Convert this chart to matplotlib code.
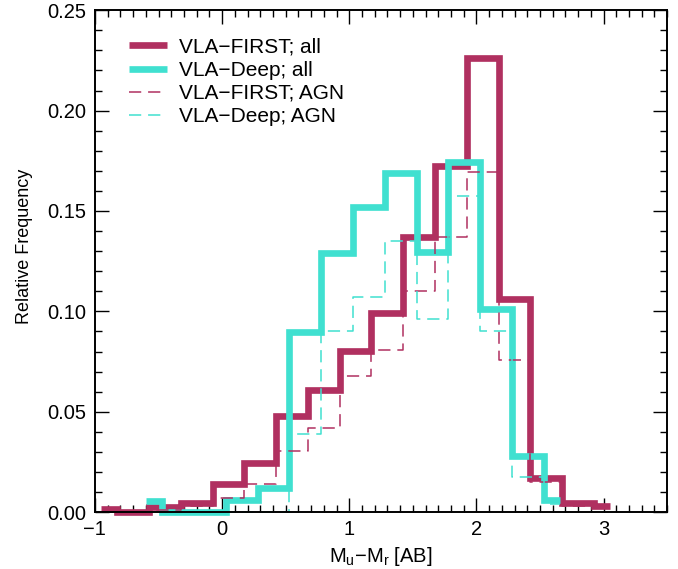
import numpy as np
import matplotlib
matplotlib.use("Agg")
import matplotlib.pyplot as plt
from matplotlib.ticker import MultipleLocator

plt.rcParams['font.family'] = ['Liberation Sans', 'DejaVu Sans']
plt.rcParams['mathtext.fontset'] = 'custom'
plt.rcParams['mathtext.rm'] = 'Liberation Sans'

# bin centres
x_first = np.arange(17)*0.25 - 0.95
x_deep = np.arange(14)*0.25 - 0.595

# relative frequency per bin
first_all = [0.0013, 0.0, 0.0025, 0.0045, 0.0140, 0.0245, 0.048, 0.0607, 0.0805,
             0.099, 0.137, 0.1725, 0.226, 0.106, 0.0168, 0.0043, 0.003]
deep_all = [0.0053, 0.0, 0.0, 0.006, 0.0118, 0.0898, 0.129, 0.152, 0.1688,
            0.1296, 0.1745, 0.1014, 0.0279, 0.0058]
first_agn = [0.0, 0.0, 0.001, 0.003, 0.007, 0.014, 0.0304, 0.042, 0.068,
             0.0806, 0.110, 0.137, 0.1695, 0.0756, 0.015, 0.003, 0.002]
deep_agn = [0.0, 0.0, 0.0, 0.0, 0.0, 0.039, 0.090, 0.107, 0.135,
            0.096, 0.1575, 0.090, 0.0173, 0.004]

maroon = '#B03060'
turq = '#40E0D0'

fig = plt.figure(figsize=(6.78, 5.69), dpi=100)
ax = fig.add_axes([0.140, 0.100, 0.844, 0.882])

kw = dict(drawstyle='steps-mid', clip_on=False, solid_capstyle='butt',
          solid_joinstyle='miter')
ax.plot(x_first, first_all, color=maroon, lw=4.8, label='VLA\u2212FIRST; all', **kw)
ax.plot(x_deep, deep_all, color=turq, lw=4.8, label='VLA\u2212Deep; all', **kw)
ax.plot(x_first, first_agn, color=maroon, lw=1.1, ls=(0, (8, 4.5)),
        label='VLA\u2212FIRST; AGN', **kw)
ax.plot(x_deep, deep_agn, color=turq, lw=1.1, ls=(0, (8, 4.5)),
        label='VLA\u2212Deep; AGN', **kw)

ax.set_xlim(-1, 3.5)
ax.set_ylim(0, 0.25)
ax.xaxis.set_major_locator(MultipleLocator(1))
ax.xaxis.set_minor_locator(MultipleLocator(0.1))
ax.yaxis.set_major_locator(MultipleLocator(0.05))
ax.yaxis.set_minor_locator(MultipleLocator(0.01))
ax.yaxis.set_major_formatter(plt.FormatStrFormatter('%.2f'))
ax.set_xticks([-1, 0, 1, 2, 3])
ax.set_xticklabels(['\u22121', '0', '1', '2', '3'])
ax.tick_params(which='both', direction='in', top=True, right=True, labelsize=14.5,
               width=1.0)
ax.tick_params(which='major', length=10, pad=6)
ax.tick_params(which='minor', length=5)
for s in ax.spines.values():
    s.set_linewidth(1.4)

ax.set_xlabel(r'M$_\mathregular{u}$$-$M$_\mathregular{r}$ [AB]', fontsize=14.5)
ax.xaxis.set_label_coords(0.5, -0.066)
ax.set_ylabel('Relative Frequency', fontsize=13)
ax.yaxis.set_label_coords(-0.108, 0.53)

leg = ax.legend(loc='upper left', frameon=False, fontsize=15, handlelength=1.8,
                handletextpad=0.6, labelspacing=0.2, borderaxespad=0.0,
                bbox_to_anchor=(0.045, 0.962))

fig.savefig('out.png', dpi=100)
